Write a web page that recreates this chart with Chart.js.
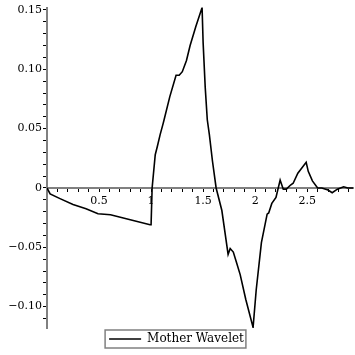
<!DOCTYPE html>
<html>
<head>
<meta charset="utf-8">
<script src="https://cdn.jsdelivr.net/npm/chart.js@4"></script>
<style>
  html, body { margin: 0; padding: 0; background: #fff; }
  #wrap { width: 355px; height: 355px; }
</style>
</head>
<body>
<div id="wrap"><canvas id="chart" width="355" height="355"></canvas></div>
<script>
// wavelet samples
const xs = [0, 0.03, 0.125, 0.25, 0.375, 0.49, 0.61, 0.8, 0.99, 1.0,
  1.01, 1.04, 1.06, 1.087, 1.115, 1.125, 1.18, 1.24, 1.27, 1.3, 1.34, 1.375, 1.43, 1.49,
  1.5, 1.52, 1.54, 1.56, 1.59, 1.625, 1.68, 1.74, 1.76, 1.79, 1.82, 1.856, 1.91, 1.98,
  2.01, 2.06, 2.115, 2.13, 2.16, 2.2, 2.24, 2.27, 2.3, 2.34, 2.365, 2.41, 2.49,
  2.51, 2.55, 2.6, 2.64, 2.7, 2.74, 2.79, 2.85, 2.89, 2.94];
const ys = [0, -0.005, -0.009, -0.014, -0.0175, -0.0217, -0.0225, -0.0267, -0.031, -0.031,
  0, 0.028, 0.035, 0.045, 0.054, 0.0575, 0.077, 0.095, 0.095, 0.098, 0.1075, 0.12, 0.136, 0.152,
  0.1225, 0.085, 0.0575, 0.045, 0.0225, 0, -0.019, -0.056, -0.051, -0.054, -0.0625, -0.073, -0.094, -0.1175,
  -0.086, -0.046, -0.022, -0.021, -0.013, -0.008, 0.0067, -0.001, -0.001, 0.0025, 0.004, 0.0125, 0.0217,
  0.014, 0.006, 0, 0, -0.0017, -0.004, -0.001, 0.001, 0, 0];
const seriesName = 'Mother Wavelet';
const xMajor = [0.5, 1, 1.5, 2, 2.5];
const yMajor = [-0.10, -0.05, 0, 0.05, 0.10, 0.15];

const points = xs.map((x, i) => ({ x: x, y: ys[i] }));
const font = { family: "'DejaVu Serif', serif", size: 11 };
const isMajor = (list, v) => list.some(m => Math.abs(m - v) < 1e-6);

// minor ticks every 0.01 between the labelled ones
function yTicks(scale) {
  const out = [];
  for (let k = -11; k <= 15; k++) out.push({ value: k / 100 });
  scale.ticks = out;
}

// Maple style box around the legend
const legendBox = {
  id: 'legendBox',
  afterDraw(chart) {
    const hb = chart.legend.legendHitBoxes[0];
    if (!hb) return;
    const c = chart.ctx;
    c.save();
    c.strokeStyle = '#808080';
    c.lineWidth = 1.5;
    c.strokeRect(hb.left - 4, hb.top - 3, hb.width + 6, hb.height + 6);
    c.restore();
  }
};

new Chart(document.getElementById('chart'), {
  type: 'line',
  data: {
    datasets: [{
      label: seriesName,
      data: points,
      borderColor: '#000',
      backgroundColor: '#000',
      borderWidth: 1.6,
      pointRadius: 0,
      tension: 0
    }]
  },
  options: {
    responsive: false,
    animation: false,
    layout: { padding: { left: 0, right: 2, top: 5, bottom: 0 } },
    plugins: {
      tooltip: { enabled: false },
      legend: {
        position: 'bottom',
        labels: {
          usePointStyle: true,
          pointStyle: 'line',
          pointStyleWidth: 32,
          color: '#000',
          padding: 5,
          font: { family: "'DejaVu Serif', serif", size: 12 }
        }
      }
    },
    scales: {
      x: {
        type: 'linear',
        position: { y: 0 },
        min: 0,
        max: 2.94,
        grid: { drawOnChartArea: false, tickLength: 3, tickColor: '#000' },
        border: { color: '#808080', width: 2 },
        ticks: {
          stepSize: 0.1,
          autoSkip: false,
          maxRotation: 0,
          includeBounds: false,
          color: '#000',
          font: font,
          padding: 4,
          callback: v => isMajor(xMajor, v) ? String(Math.round(v * 10) / 10) : ''
        }
      },
      y: {
        type: 'linear',
        position: 'left',
        min: -0.118,
        max: 0.152,
        afterBuildTicks: yTicks,
        afterFit: s => { s.width = 47; },
        grid: {
          drawOnChartArea: false,
          tickLength: 4,
          tickColor: '#000'
        },
        border: { color: '#808080', width: 2 },
        ticks: {
          autoSkip: false,
          color: '#000',
          font: font,
          padding: 1,
          callback: v => {
            if (!isMajor(yMajor, v)) return '';
            if (Math.abs(v) < 1e-9) return '0';
            const s = Math.abs(v).toFixed(2);
            return v < 0 ? '\u2212' + s : s;
          }
        }
      }
    }
  },
  plugins: [legendBox]
});
</script>
</body>
</html>
